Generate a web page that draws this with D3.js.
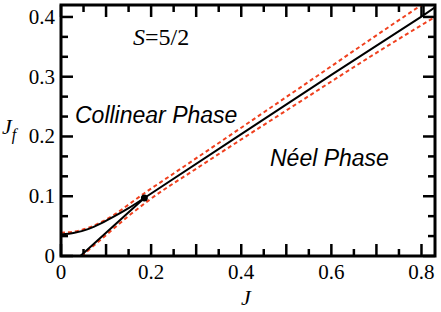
<!DOCTYPE html>
<html lang="en">
<head>
  <meta charset="utf-8">
  <script src="https://d3js.org/d3.v7.min.js"></script>
  <style>
    body, html { margin: 0; padding: 0; background: #fff; }
    .tick-label { font-family: "Liberation Serif", "Times New Roman", serif; font-size: 21px; fill: #000; }
    .phase { font-family: "Liberation Sans", Arial, sans-serif; font-style: italic; font-size: 23px; fill: #000; }
    .frame { fill: none; stroke: #000; stroke-width: 3px; }
    .tick { stroke: #000; stroke-width: 2.5px; }
    .line { fill: none; stroke-width: 2px; }
  </style>
</head>
<body>
<svg id="chart" width="441" height="312"></svg>

<script>
  // x ticks (J) and y ticks (Jf)
  var xTicks = [0, 0.2, 0.4, 0.6, 0.8];
  var yTicks = [0, 0.1, 0.2, 0.3, 0.4];

  // black phase boundaries
  var upperJ  = [0, 0.03, 0.06, 0.09, 0.12, 0.15, 0.185];
  var upperJf = [0.036, 0.039, 0.045, 0.055, 0.067, 0.080, 0.097];

  var lowerJ  = [0.043, 0.10, 0.185];
  var lowerJf = [0, 0.039, 0.097];

  var mainJ  = [0.185, 0.4, 0.6, 0.805];
  var mainJf = [0.097, 0.204, 0.303, 0.403];

  // little wedge at the top right corner
  var cornerJ  = [0.805, 0.805, 0.83];
  var cornerJf = [0.425, 0.403, 0.416];

  // red dashed curves
  var redUpJ  = [0, 0.03, 0.06, 0.09, 0.12, 0.15, 0.185, 0.25, 0.5, 0.8, 0.83];
  var redUpJf = [0.039, 0.041, 0.047, 0.057, 0.070, 0.086, 0.105, 0.138, 0.266, 0.42, 0.435];

  var redLowJ  = [0.046, 0.10, 0.15, 0.20, 0.30, 0.40, 0.53, 0.70, 0.83];
  var redLowJf = [0, 0.035, 0.067, 0.096, 0.146, 0.195, 0.258, 0.340, 0.400];

  // the meeting point
  var dotJ = 0.185, dotJf = 0.097;

  var pLeft = 61, pRight = 435, pTop = 5, pBottom = 256;

  var x = d3.scaleLinear().domain([0, 0.83]).range([pLeft, pRight]);
  var y = d3.scaleLinear().domain([0, 0.42]).range([pBottom, pTop]);

  var svg = d3.select("#chart");

  svg.append("clipPath").attr("id", "clip")
    .append("rect")
    .attr("x", pLeft).attr("y", pTop)
    .attr("width", pRight - pLeft).attr("height", pBottom - pTop);

  // ticks on all four sides, pointing inward
  var xMinor = d3.range(0, 0.8301, 0.05);
  var yMinor = d3.range(0, 0.4201, 0.1 / 3);

  function isMajor(v) { return Math.abs(v * 10 - Math.round(v * 10)) < 1e-6; }

  var tg = svg.append("g");
  xMinor.forEach(function(v) {
    var len = isMajor(v) ? 12 : 7;
    tg.append("line").attr("class", "tick")
      .attr("x1", x(v)).attr("x2", x(v)).attr("y1", pBottom).attr("y2", pBottom - len);
    tg.append("line").attr("class", "tick")
      .attr("x1", x(v)).attr("x2", x(v)).attr("y1", pTop).attr("y2", pTop + len);
  });
  yMinor.forEach(function(v) {
    var len = isMajor(v) ? 12 : 7;
    tg.append("line").attr("class", "tick")
      .attr("y1", y(v)).attr("y2", y(v)).attr("x1", pLeft).attr("x2", pLeft + len);
    tg.append("line").attr("class", "tick")
      .attr("y1", y(v)).attr("y2", y(v)).attr("x1", pRight).attr("x2", pRight - len);
  });

  // tick labels
  svg.selectAll(".xl").data(xTicks).enter().append("text")
    .attr("class", "tick-label")
    .attr("x", function(d) { return x(d); })
    .attr("y", 279)
    .attr("text-anchor", "middle")
    .text(function(d) { return d === 0 ? "0" : d.toFixed(1); });

  svg.selectAll(".yl").data(yTicks).enter().append("text")
    .attr("class", "tick-label")
    .attr("x", 55)
    .attr("y", function(d) { return y(d) + 7; })
    .attr("text-anchor", "end")
    .text(function(d) { return d === 0 ? "0" : d.toFixed(1); });

  // axis titles
  svg.append("text").attr("class", "tick-label")
    .attr("x", 246).attr("y", 305).attr("text-anchor", "middle")
    .style("font-style", "italic").style("font-size", "22px")
    .text("J");

  var jf = svg.append("text").attr("class", "tick-label")
    .attr("x", 2).attr("y", 134)
    .style("font-style", "italic").style("font-size", "22px");
  jf.append("tspan").text("J");
  jf.append("tspan").attr("dy", 6).style("font-size", "16px").text("f");

  // lines
  var line = d3.line()
    .x(function(d) { return x(d[0]); })
    .y(function(d) { return y(d[1]); });

  var smooth = d3.line()
    .curve(d3.curveMonotoneX)
    .x(function(d) { return x(d[0]); })
    .y(function(d) { return y(d[1]); });

  function pairs(a, b) { return a.map(function(v, i) { return [v, b[i]]; }); }

  var plot = svg.append("g").attr("clip-path", "url(#clip)");

  plot.append("path").attr("class", "line")
    .attr("d", smooth(pairs(redUpJ, redUpJf)))
    .style("stroke", "#f0401e").style("stroke-dasharray", "4,3");
  plot.append("path").attr("class", "line")
    .attr("d", smooth(pairs(redLowJ, redLowJf)))
    .style("stroke", "#f0401e").style("stroke-dasharray", "4,3");

  plot.append("path").attr("class", "line")
    .attr("d", smooth(pairs(upperJ, upperJf))).style("stroke", "#000");
  plot.append("path").attr("class", "line")
    .attr("d", line(pairs(lowerJ, lowerJf))).style("stroke", "#000");
  plot.append("path").attr("class", "line")
    .attr("d", line(pairs(mainJ, mainJf))).style("stroke", "#000");
  plot.append("path").attr("class", "line")
    .attr("d", line(pairs(cornerJ, cornerJf))).style("stroke", "#000");

  plot.append("circle")
    .attr("cx", x(dotJ)).attr("cy", y(dotJf)).attr("r", 3.5)
    .style("fill", "#000");

  // frame
  svg.append("rect").attr("class", "frame")
    .attr("x", pLeft).attr("y", pTop)
    .attr("width", pRight - pLeft).attr("height", pBottom - pTop);

  // annotations
  var s = svg.append("text").attr("class", "tick-label")
    .attr("x", 133).attr("y", 45).style("font-size", "24px");
  s.append("tspan").style("font-style", "italic").text("S");
  s.append("tspan").text("=5/2");

  svg.append("text").attr("class", "phase")
    .attr("x", 75).attr("y", 123).text("Collinear Phase");
  svg.append("text").attr("class", "phase")
    .attr("x", 270).attr("y", 166).text("Néel Phase");
</script>
</body>
</html>
